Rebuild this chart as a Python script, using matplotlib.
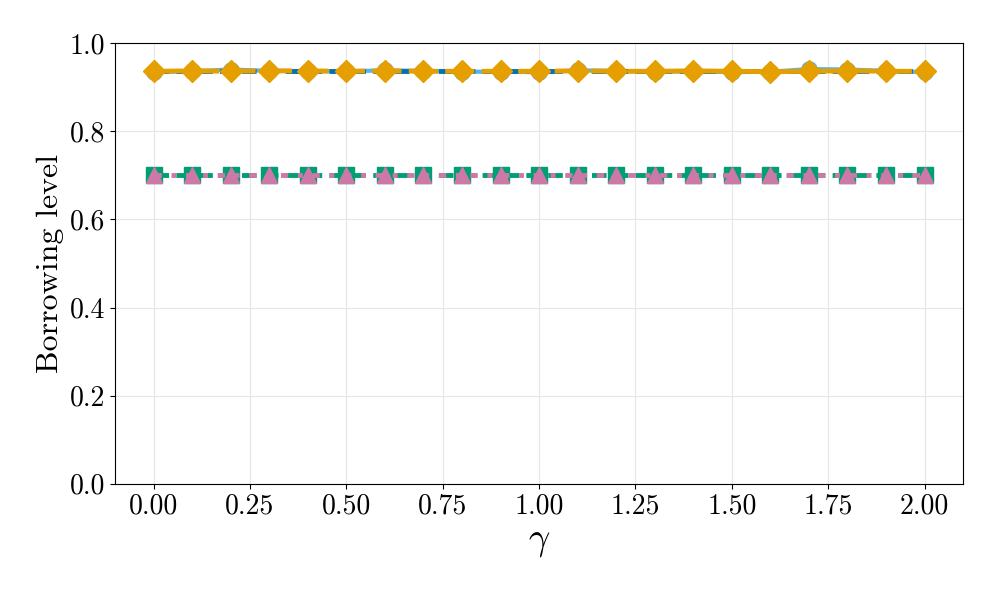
import numpy as np
import matplotlib
matplotlib.use("Agg")
import matplotlib.pyplot as plt

plt.rcParams["font.family"] = "serif"
plt.rcParams["font.serif"] = ["cmr10"]
plt.rcParams["mathtext.fontset"] = "cm"
plt.rcParams["axes.formatter.use_mathtext"] = True

# ── Data ──────────────────────────────────────────────────────────────────────
gamma = [0.0, 0.1, 0.2, 0.3, 0.4, 0.5, 0.6, 0.7, 0.8, 0.9, 1.0,
         1.1, 1.2, 1.3, 1.4, 1.5, 1.6, 1.7, 1.8, 1.9, 2.0]

light_blue = [0.934, 0.936, 0.940, 0.937, 0.936, 0.936, 0.938, 0.937, 0.935, 0.935, 0.934,
              0.938, 0.937, 0.935, 0.936, 0.934, 0.935, 0.941, 0.940, 0.937, 0.934]
dark_blue = [0.936] * 21
orange = [0.936, 0.937, 0.936, 0.937, 0.937, 0.936, 0.937, 0.936, 0.936, 0.936, 0.936,
          0.937, 0.936, 0.936, 0.937, 0.936, 0.935, 0.936, 0.937, 0.936, 0.936]
green = [0.700] * 21
pink = [0.700] * 21

# ── Plot ──────────────────────────────────────────────────────────────────────
fig = plt.figure(figsize=(9.96, 5.9), dpi=100)
ax = fig.add_axes([0.1155, 0.18, 0.8515, 0.747])

ax.plot(gamma, light_blue, color="#56B4E9", linestyle="-", linewidth=3,
        marker="o", markersize=11, zorder=3)
ax.plot(gamma, dark_blue, color="#0072B2", linestyle=(0, (3, 1.5)), linewidth=3.5,
        zorder=3)
ax.plot(gamma, orange, color="#E69F00", linestyle=(0, (6, 1.5)), linewidth=3.5,
        marker="D", markersize=11, zorder=4)
ax.plot(gamma, green, color="#009E73", linestyle=(0, (3, 1.5)), linewidth=3.5,
        marker="s", markersize=11, zorder=3)
ax.plot(gamma, pink, color="#CC79A7", linestyle=(0, (1.5, 2, 1, 2)), linewidth=3.5,
        marker="^", markersize=11, zorder=4)

ax.set_ylim(0, 1.0)
ax.set_yticks([0.0, 0.2, 0.4, 0.6, 0.8, 1.0])
ax.set_xticks([0.0, 0.25, 0.5, 0.75, 1.0, 1.25, 1.5, 1.75, 2.0])
ax.set_xticklabels(["0.00", "0.25", "0.50", "0.75", "1.00", "1.25", "1.50", "1.75", "2.00"])
ax.set_yticklabels(["0.0", "0.2", "0.4", "0.6", "0.8", "1.0"])
ax.tick_params(labelsize=20)
ax.grid(True, color="#e6e6e6", linewidth=0.8)
ax.set_axisbelow(True)

ax.set_xlabel(r"$\gamma$", fontsize=27)
ax.set_ylabel("Borrowing level", fontsize=23)

fig.savefig("out.png", dpi=100)
